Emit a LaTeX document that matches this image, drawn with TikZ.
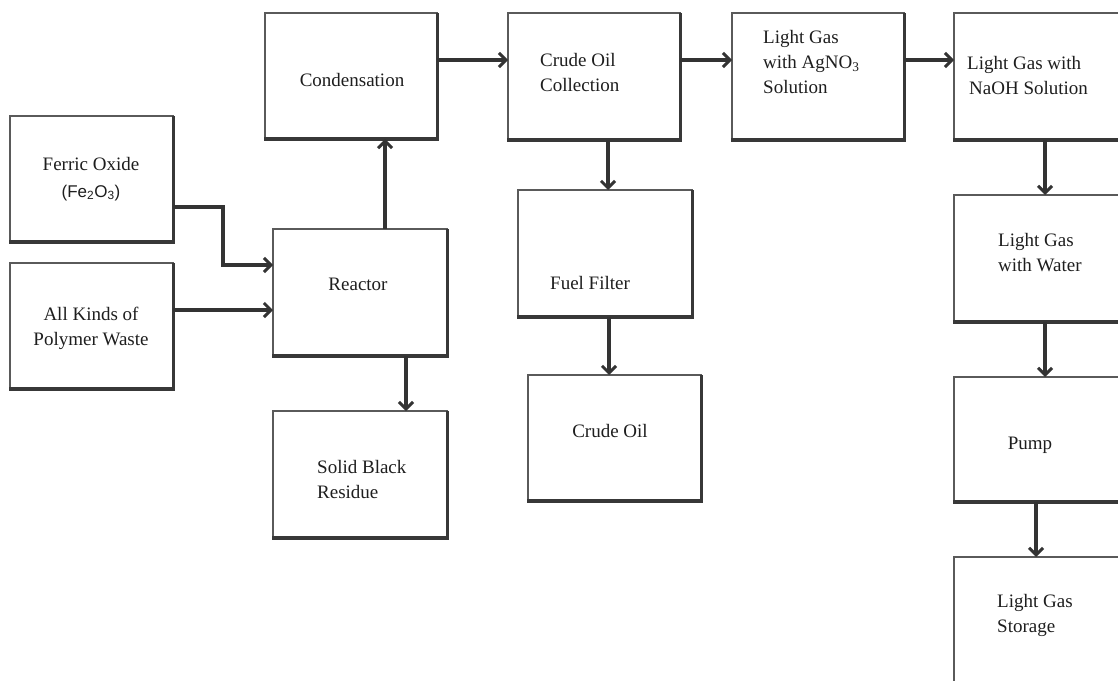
\documentclass[tikz,border=0pt]{standalone}
\usepackage{fontspec}
\setmainfont{Liberation Serif}
\newfontfamily\lsans{Liberation Sans}
\usetikzlibrary{arrows.meta}
\definecolor{ink}{HTML}{1E1E1E}
\definecolor{boxgray}{HTML}{5A5A5A}
\definecolor{edgegray}{HTML}{383838}
\definecolor{arrgray}{HTML}{333333}
\begin{document}
\begin{tikzpicture}[x=1pt,y=-1pt,
  box/.style={draw=boxgray, line width=1.6pt, inner sep=0pt, outer sep=0pt, fill=white},
  txt/.style={font=\fontsize{19}{25}\selectfont, text=ink, inner sep=0pt},
  arr/.style={draw=arrgray, line width=3.6pt, -{Straight Barb[length=7pt,width=14pt,line width=3pt]}},
  redge/.style={draw=edgegray, line width=3pt},
  bedge/.style={draw=edgegray, line width=4.6pt}]
\clip (0,0) rectangle (1118,680);
\fill[white] (0,0) rectangle (1118,680);

% boxes
\node[box, minimum width=172pt, minimum height=126pt] (cond)    at (351,76)    {};
\node[box, minimum width=172pt, minimum height=127pt] (coll)    at (594,76.5)  {};
\node[box, minimum width=172pt, minimum height=127pt] (agno)    at (818,76.5)  {};
\node[box, minimum width=176pt, minimum height=127pt] (naoh)    at (1042,76.5) {};
\node[box, minimum width=163pt, minimum height=126pt] (ferric)  at (91.5,179)  {};
\node[box, minimum width=163pt, minimum height=126pt] (poly)    at (91.5,326)  {};
\node[box, minimum width=174pt, minimum height=127pt] (react)   at (360,292.5) {};
\node[box, minimum width=174pt, minimum height=127pt] (resid)   at (360,474.5) {};
\node[box, minimum width=174pt, minimum height=127pt] (filter)  at (605,253.5) {};
\node[box, minimum width=173pt, minimum height=126pt] (crude)   at (614.5,438) {};
\node[box, minimum width=176pt, minimum height=127pt] (water)   at (1042,258.5) {};
\node[box, minimum width=176pt, minimum height=125pt] (pump)    at (1042,439.5) {};
\node[box, minimum width=176pt, minimum height=143pt] (storage) at (1042,628.5) {};

\foreach \n in {cond,coll,agno,naoh,ferric,poly,react,resid,filter,crude,water,pump,storage}{
  \draw[redge] (\n.north east) -- (\n.south east);
  \draw[bedge] ([xshift=-0.8pt]\n.south west) -- ([xshift=1.5pt]\n.south east);
}

% texts
\node[txt] (condT) at (352,80) {Condensation};
\node[txt, anchor=west, align=left] (collT) at (540,72.5) {Crude Oil\\Collection};
\node[txt, anchor=west, align=left] (agnoT) at (763,62) {Light Gas\\with AgNO\textsubscript{3}\\Solution};
\node[txt, anchor=west, align=left] (naohT) at (967,75.5) {Light Gas with\\\hspace*{2pt}NaOH Solution};
\node[txt, align=center] (ferricT) at (91,179) {Ferric Oxide\\[2pt]{\lsans\fontsize{17}{20}\selectfont (Fe\textsubscript{2}O\textsubscript{3})}};
\node[txt, align=center] (polyT) at (91,328) {All Kinds of\\Polymer Waste};
\node[txt] (reactT) at (358,284) {Reactor};
\node[txt, anchor=west, align=left] (residT) at (317,479.5) {Solid Black\\Residue};
\node[txt, anchor=west] (filterT) at (550,283) {Fuel Filter};
\node[txt] (crudeT) at (610,431) {Crude Oil};
\node[txt, anchor=west, align=left] (waterT) at (998,253) {Light Gas\\with Water};
\node[txt] (pumpT) at (1030,445) {Pump};
\node[txt, anchor=west, align=left] (storT) at (997,615.5) {Light Gas\\Storage};

% connectors
\draw[arr] ([yshift=-28pt]ferric.east) -- ++(50,0) |- ([yshift=27.5pt]react.west);
\draw[arr] ([yshift=16pt]poly.east) coordinate (p1) -- (p1 -| react.west);
\draw[arr] ([xshift=25pt]react.north) coordinate (r1) -- (r1 |- cond.south);
\draw[arr] ([xshift=46pt]react.south) coordinate (r2) -- (r2 |- resid.north);
\draw[arr] ([yshift=16pt]cond.east) coordinate (c1) -- (c1 -| coll.west);
\draw[arr] ([yshift=16.5pt]coll.east) coordinate (c2) -- (c2 -| agno.west);
\draw[arr] ([yshift=16.5pt]agno.east) coordinate (c3) -- (c3 -| naoh.west);
\draw[arr] ([xshift=14pt]coll.south) coordinate (c4) -- (c4 |- filter.north);
\draw[arr] ([xshift=4pt]filter.south) coordinate (f1) -- (f1 |- crude.north);
\draw[arr] ([xshift=3pt]naoh.south) coordinate (n1) -- (n1 |- water.north);
\draw[arr] ([xshift=3pt]water.south) coordinate (w1) -- (w1 |- pump.north);
\draw[arr] ([xshift=-6pt]pump.south) coordinate (q1) -- (q1 |- storage.north);
\end{tikzpicture}
\end{document}
